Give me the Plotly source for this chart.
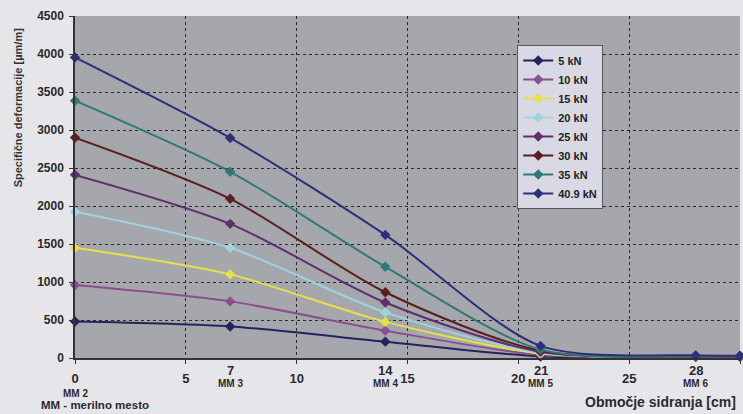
import plotly.graph_objects as go

# ---- data ----
positions = [0, 7, 14, 21, 28, 30]
series_names = ["5 kN", "10 kN", "15 kN", "20 kN", "25 kN", "30 kN", "35 kN", "40.9 kN"]
v_5 = [480, 415, 215, 20, 15, 15]
v_10 = [960, 745, 360, 40, 15, 15]
v_15 = [1450, 1100, 475, 60, 15, 15]
v_20 = [1925, 1450, 600, 70, 15, 15]
v_25 = [2410, 1765, 730, 80, 20, 20]
v_30 = [2900, 2095, 865, 95, 20, 20]
v_35 = [3385, 2450, 1200, 110, 25, 25]
v_409 = [3955, 2895, 1620, 160, 35, 30]
series_values = [v_5, v_10, v_15, v_20, v_25, v_30, v_35, v_409]
colors = ["#23235e", "#8a4f8e", "#e6e04a", "#9fd3df", "#5e2f6e", "#5a1f1c", "#2f7a78", "#2e2e7c"]

x_ticks = [0, 5, 10, 15, 20, 25, 30]
mm_pos = [7, 14, 21, 28]
mm_all = [0, 7, 14, 21, 28]
mm_labels = ["MM 2", "MM 3", "MM 4", "MM 5", "MM 6"]
y_ticks = [0, 500, 1000, 1500, 2000, 2500, 3000, 3500, 4000, 4500]

FONT = "Liberation Sans"

fig = go.Figure()
for name, vals, col in zip(series_names, series_values, colors):
    fig.add_trace(go.Scatter(
        x=positions, y=vals, name="<b>%s</b>" % name, mode="lines+markers",
        line=dict(color=col, width=2, shape="spline", smoothing=0.8),
        marker=dict(symbol="diamond", size=8, color=col),
        cliponaxis=False,
    ))

ann = []
for p in mm_pos:
    ann.append(dict(x=p, y=0, xref="x", yref="paper", text="<b>%d</b>" % p,
                    showarrow=False, yshift=-12, yanchor="middle",
                    font=dict(family=FONT, size=13, color="#2a2a2a")))
for p, lab in zip(mm_all, mm_labels):
    ann.append(dict(x=p, y=0, xref="x", yref="paper", text="<b>%s</b>" % lab,
                    showarrow=False, yshift=(-35 if p == 0 else -25), yanchor="middle",
                    font=dict(family=FONT, size=10, color="#2a2a2a")))
ann.append(dict(x=0, y=0.73, xref="paper", yref="paper", xshift=-57,
                text="<b>Specifične deformacije [µm/m]</b>", textangle=-90,
                showarrow=False, xanchor="center", yanchor="middle",
                font=dict(family=FONT, size=11, color="#333333")))
ann.append(dict(x=0, y=0, xref="paper", yref="paper", xshift=-36, yshift=-47,
                text="<b>MM - merilno mesto</b>", showarrow=False,
                xanchor="left", yanchor="middle",
                font=dict(family=FONT, size=11.5, color="#2a2a2a")))
ann.append(dict(x=1, y=0, xref="paper", yref="paper", xshift=-2, yshift=-44,
                text="<b>Območje sidranja [cm]</b>", showarrow=False,
                xanchor="right", yanchor="middle",
                font=dict(family=FONT, size=14, color="#2a2a2a")))

fig.update_layout(
    width=743, height=414,
    margin=dict(l=75, r=3, t=16, b=56),
    paper_bgcolor="#e6e6ea",
    plot_bgcolor="#a6a7ad",
    showlegend=True,
    legend=dict(x=0.665, y=0.915, xanchor="left", yanchor="top",
                bgcolor="#d9d9e6", bordercolor="#55555f", borderwidth=1,
                font=dict(family=FONT, size=11, color="#222222"),
                itemwidth=30),
    annotations=ann,
)
fig.update_xaxes(
    range=[0, 30], tickvals=x_ticks, ticktext=["<b>%d</b>" % t for t in x_ticks],
    tickfont=dict(family=FONT, size=13, color="#2a2a2a"),
    showgrid=True, gridcolor="#2b2b2b", griddash="dot", gridwidth=1,
    showline=True, linecolor="#333333", linewidth=1.5,
    ticks="outside", ticklen=4, tickcolor="#333333",
    ticklabelstandoff=4, zeroline=False,
)
fig.update_yaxes(
    range=[0, 4500], tickvals=y_ticks, ticktext=["<b>%d</b>" % t for t in y_ticks],
    tickfont=dict(family=FONT, size=12, color="#2a2a2a"),
    showgrid=True, gridcolor="#2b2b2b", griddash="dot", gridwidth=1,
    showline=True, linecolor="#333333", linewidth=1.5,
    ticks="outside", ticklen=4, tickcolor="#333333",
    ticklabelstandoff=3, zeroline=False,
)

fig.write_html("out.html")
